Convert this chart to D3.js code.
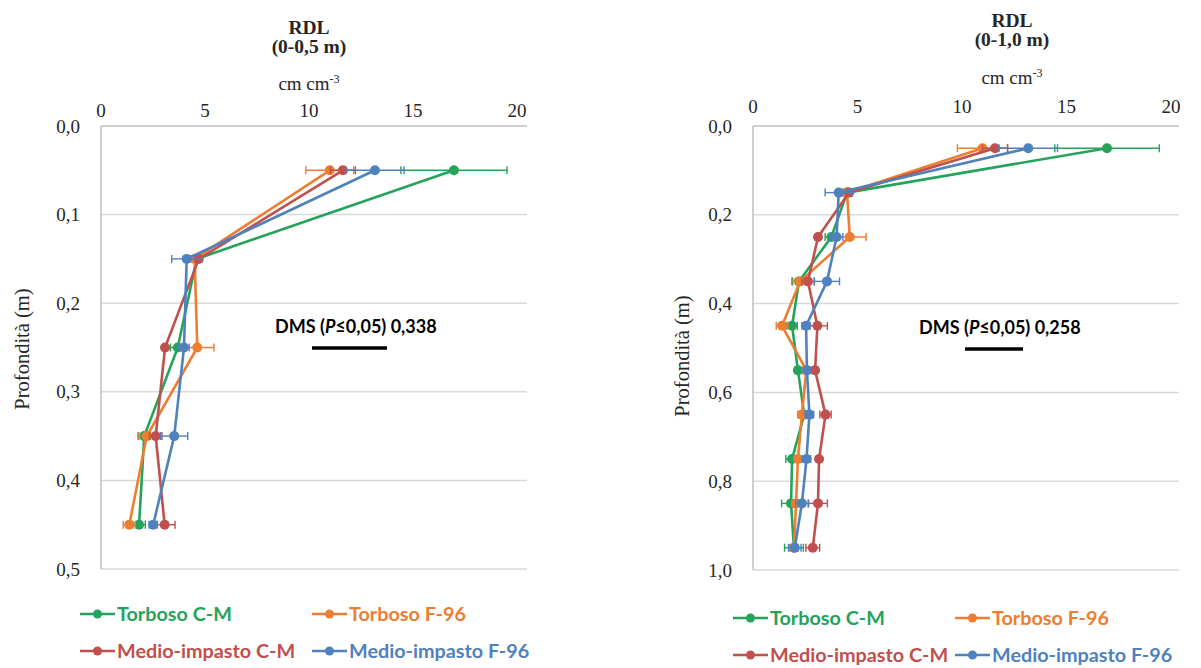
<!DOCTYPE html>
<html>
<head>
<meta charset="utf-8">
<script src="https://cdn.jsdelivr.net/npm/d3@7"></script>
<style>
  body { margin: 0; background: #fff; }
  svg { display: block; }
  .serif { font-family: "Liberation Serif", "DejaVu Serif", serif; fill: #262626; }
  .sans { font-family: Lato, "Open Sans", sans-serif; font-weight: bold; }
</style>
</head>
<body>
<svg id="chart" width="1201" height="668"></svg>
<script>
// series
var seriesNames = ["Torboso C-M", "Torboso F-96", "Medio-impasto C-M", "Medio-impasto F-96"];
var seriesColors = ["#25a35b", "#ed7d31", "#c0504d", "#4f81bd"];

// left panel: 0-0,5 m
var depthA = [0.05, 0.15, 0.25, 0.35, 0.45];
var torbCM_A = [16.97, 4.6, 3.69, 2.08, 1.83];
var torbCM_A_err = [2.55, 0.2, 0.35, 0.3, 0.3];
var torbF96_A = [11.0, 4.5, 4.63, 2.2, 1.36];
var torbF96_A_err = [1.15, 0.2, 0.8, 0.37, 0.29];
var medCM_A = [11.63, 4.7, 3.08, 2.63, 3.06];
var medCM_A_err = [0.6, 0.15, 0.1, 0.3, 0.5];
var medF96_A = [13.17, 4.12, 3.99, 3.52, 2.51];
var medF96_A_err = [1.4, 0.72, 0.25, 0.65, 0.2];

// right panel: 0-1,0 m
var depthB = [0.05, 0.15, 0.25, 0.35, 0.45, 0.55, 0.65, 0.75, 0.85, 0.95];
var torbCM_B = [16.94, 4.5, 3.75, 2.2, 1.87, 2.15, 2.45, 1.87, 1.82, 1.96];
var torbCM_B_err = [2.5, 0.2, 0.3, 0.3, 0.25, 0.15, 0.2, 0.3, 0.45, 0.45];
var torbF96_B = [10.98, 4.5, 4.63, 2.25, 1.39, 2.55, 2.34, 2.15, 2.06, 1.96];
var torbF96_B_err = [1.2, 0.2, 0.78, 0.4, 0.28, 0.15, 0.2, 0.15, 0.2, 0.2];
var medCM_B = [11.58, 4.6, 3.11, 2.63, 3.08, 2.97, 3.47, 3.16, 3.11, 2.86];
var medCM_B_err = [0.6, 0.15, 0.1, 0.3, 0.48, 0.15, 0.27, 0.1, 0.45, 0.33];
var medF96_B = [13.17, 4.1, 4.0, 3.54, 2.54, 2.58, 2.7, 2.56, 2.34, 2.0];
var medF96_B_err = [1.4, 0.65, 0.3, 0.6, 0.2, 0.15, 0.2, 0.2, 0.3, 0.3];

var xTicks = [0, 5, 10, 15, 20];
var yTicksA = [0, 0.1, 0.2, 0.3, 0.4, 0.5];
var yTicksB = [0, 0.2, 0.4, 0.6, 0.8, 1.0];
var titles = [["RDL", "(0-0,5 m)"], ["RDL", "(0-1,0 m)"]];
var dmsValues = ["0,338", "0,258"];

var it = d3.formatLocale({decimal: ",", thousands: ".", grouping: [3], currency: ["", "€"]});
var fmt1 = it.format(".1f");

var svg = d3.select("#chart");

function buildSeries(depth, vals, errs) {
  return seriesNames.map(function(name, i) {
    return {
      name: name,
      color: seriesColors[i],
      points: depth.map(function(d, j) { return {depth: d, v: vals[i][j], e: errs[i][j]}; })
    };
  });
}

var panels = [
  {
    x0: 101, x1: 517, plotRight: 527, y0: 126, y1: 569, yMax: 0.5, yTicks: yTicksA,
    titleX: 309, titleY: [34, 53], unitY: 90, tickY: 117, ylabX: 22, ylabY: 349,
    dmsX: 275, dmsY: 333, barX: [312, 387], barY: 348, dms: dmsValues[0], title: titles[0],
    legX: [80, 312], legY: [614, 651],
    series: buildSeries(depthA, [torbCM_A, torbF96_A, medCM_A, medF96_A],
                        [torbCM_A_err, torbF96_A_err, medCM_A_err, medF96_A_err])
  },
  {
    x0: 753, x1: 1171, plotRight: 1179, y0: 126, y1: 570, yMax: 1.0, yTicks: yTicksB,
    titleX: 1012, titleY: [27, 46], unitY: 84, tickY: 113, ylabX: 682, ylabY: 356,
    dmsX: 919, dmsY: 334, barX: [965, 1023], barY: 349, dms: dmsValues[1], title: titles[1],
    legX: [733, 955], legY: [618, 655],
    series: buildSeries(depthB, [torbCM_B, torbF96_B, medCM_B, medF96_B],
                        [torbCM_B_err, torbF96_B_err, medCM_B_err, medF96_B_err])
  }
];

panels.forEach(function(p) {
  var x = d3.scaleLinear().domain([0, 20]).range([p.x0, p.x1]);
  var y = d3.scaleLinear().domain([0, p.yMax]).range([p.y0, p.y1]);
  var g = svg.append("g");

  // gridlines
  g.selectAll(".grid")
    .data(p.yTicks)
    .enter().append("line")
      .attr("x1", p.x0).attr("x2", p.plotRight)
      .attr("y1", function(d) { return y(d); })
      .attr("y2", function(d) { return y(d); })
      .attr("stroke", function(d) { return d === 0 ? "#bfbfbf" : "#d9d9d9"; })
      .attr("stroke-width", 1.5);
  g.append("line")
      .attr("x1", p.x0).attr("x2", p.x0)
      .attr("y1", p.y0).attr("y2", p.y1)
      .attr("stroke", "#bfbfbf").attr("stroke-width", 1.5);

  // x tick labels (top)
  g.selectAll(".xt")
    .data(xTicks)
    .enter().append("text")
      .attr("class", "serif")
      .attr("x", function(d) { return x(d); })
      .attr("y", p.tickY)
      .attr("text-anchor", "middle")
      .attr("font-size", 19)
      .text(function(d) { return d; });

  // y tick labels
  g.selectAll(".yt")
    .data(p.yTicks)
    .enter().append("text")
      .attr("class", "serif")
      .attr("x", p.x0 - 21)
      .attr("y", function(d) { return y(d); })
      .attr("dy", "0.35em")
      .attr("text-anchor", "end")
      .attr("font-size", 19)
      .text(function(d) { return fmt1(d); });

  // titles
  g.append("text").attr("class", "serif")
      .attr("x", p.titleX).attr("y", p.titleY[0])
      .attr("text-anchor", "middle").attr("font-size", 19.5).attr("font-weight", "bold")
      .text(p.title[0]);
  g.append("text").attr("class", "serif")
      .attr("x", p.titleX).attr("y", p.titleY[1])
      .attr("text-anchor", "middle").attr("font-size", 19.5).attr("font-weight", "bold")
      .text(p.title[1]);

  var unit = g.append("text").attr("class", "serif")
      .attr("x", p.titleX).attr("y", p.unitY)
      .attr("text-anchor", "middle").attr("font-size", 19);
  unit.append("tspan").text("cm cm");
  unit.append("tspan").attr("dy", -7).attr("font-size", 12).text("-3");

  g.append("text").attr("class", "serif")
      .attr("transform", "translate(" + p.ylabX + "," + p.ylabY + ") rotate(-90)")
      .attr("dy", "0.35em")
      .attr("text-anchor", "middle").attr("font-size", 20.5)
      .text("Profondità (m)");

  // DMS annotation
  var dms = g.append("text").attr("class", "sans")
      .attr("x", p.dmsX).attr("y", p.dmsY)
      .attr("font-size", 18).attr("fill", "#000");
  dms.append("tspan").text("DMS (");
  dms.append("tspan").attr("font-style", "italic").text("P");
  dms.append("tspan").text("≤0,05) " + p.dms);
  g.append("line")
      .attr("x1", p.barX[0]).attr("x2", p.barX[1])
      .attr("y1", p.barY).attr("y2", p.barY)
      .attr("stroke", "#000").attr("stroke-width", 3.5);

  // series
  var line = d3.line()
      .x(function(d) { return x(d.v); })
      .y(function(d) { return y(d.depth); });

  var sg = g.selectAll(".series")
    .data(p.series)
    .enter().append("g");

  sg.append("path")
      .attr("d", function(s) { return line(s.points); })
      .attr("fill", "none")
      .attr("stroke", function(s) { return s.color; })
      .attr("stroke-width", 2.6)
      .attr("stroke-linejoin", "round");

  sg.each(function(s) {
    var eb = d3.select(this).selectAll(".eb")
      .data(s.points)
      .enter().append("g")
        .attr("stroke", s.color)
        .attr("stroke-width", 1.4);
    eb.append("line")
        .attr("x1", function(d) { return x(d.v - d.e); })
        .attr("x2", function(d) { return x(d.v + d.e); })
        .attr("y1", function(d) { return y(d.depth); })
        .attr("y2", function(d) { return y(d.depth); });
    eb.append("line")
        .attr("x1", function(d) { return x(d.v - d.e); })
        .attr("x2", function(d) { return x(d.v - d.e); })
        .attr("y1", function(d) { return y(d.depth) - 4; })
        .attr("y2", function(d) { return y(d.depth) + 4; });
    eb.append("line")
        .attr("x1", function(d) { return x(d.v + d.e); })
        .attr("x2", function(d) { return x(d.v + d.e); })
        .attr("y1", function(d) { return y(d.depth) - 4; })
        .attr("y2", function(d) { return y(d.depth) + 4; });
    d3.select(this).selectAll(".pt")
      .data(s.points)
      .enter().append("circle")
        .attr("cx", function(d) { return x(d.v); })
        .attr("cy", function(d) { return y(d.depth); })
        .attr("r", 5)
        .attr("fill", s.color);
  });

  // legend
  var leg = g.selectAll(".leg")
    .data(p.series)
    .enter().append("g")
      .attr("transform", function(s, i) {
        return "translate(" + p.legX[i % 2] + "," + p.legY[Math.floor(i / 2)] + ")";
      });
  leg.append("line")
      .attr("x1", 0).attr("x2", 35).attr("y1", 0).attr("y2", 0)
      .attr("stroke", function(s) { return s.color; })
      .attr("stroke-width", 2.6);
  leg.append("circle")
      .attr("cx", 17.5).attr("cy", 0).attr("r", 4.5)
      .attr("fill", function(s) { return s.color; });
  leg.append("text").attr("class", "sans")
      .attr("x", 37).attr("y", 0).attr("dy", "0.35em")
      .attr("font-size", 19.8)
      .attr("fill", function(s) { return s.color; })
      .text(function(s) { return s.name; });
});
</script>
</body>
</html>
